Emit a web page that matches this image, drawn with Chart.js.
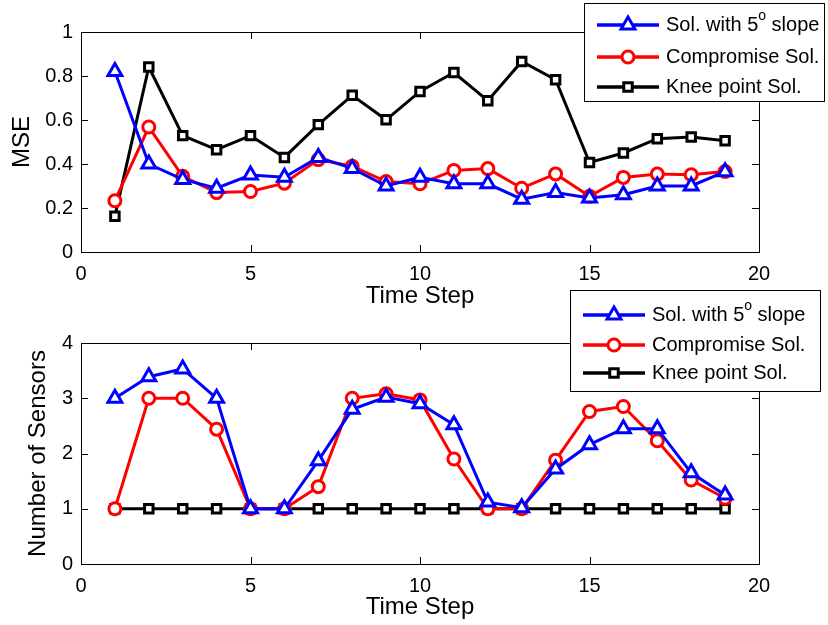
<!DOCTYPE html>
<html>
<head>
<meta charset="utf-8">
<script src="https://cdn.jsdelivr.net/npm/chart.js@4.4.0/dist/chart.umd.min.js"></script>
<style>
  html, body { margin: 0; padding: 0; background: #fff; }
  #wrap { position: relative; width: 828px; height: 625px; }
  #wrap canvas { position: absolute; left: 0; }
  #mseChart { top: 0; }
  #sensorChart { top: 280px; }
</style>
</head>
<body>
<div id="wrap">
  <canvas id="mseChart" width="828" height="312"></canvas>
  <canvas id="sensorChart" width="828" height="345"></canvas>
</div>
<script>
const timeSteps = [1, 2, 3, 4, 5, 6, 7, 8, 9, 10, 11, 12, 13, 14, 15, 16, 17, 18, 19];
const seriesLabels = ["Sol. with 5^o slope", "Compromise Sol.", "Knee point Sol."];

const mseSlope      = [0.82, 0.40, 0.33, 0.29, 0.35, 0.34, 0.43, 0.38, 0.30, 0.34, 0.31, 0.31, 0.24, 0.27, 0.245, 0.26, 0.30, 0.30, 0.365];
const mseCompromise = [0.233, 0.568, 0.344, 0.27, 0.275, 0.313, 0.42, 0.39, 0.32, 0.31, 0.371, 0.379, 0.29, 0.355, 0.253, 0.339, 0.354, 0.351, 0.366];
const mseKnee       = [0.162, 0.841, 0.529, 0.465, 0.529, 0.43, 0.579, 0.712, 0.601, 0.73, 0.816, 0.688, 0.866, 0.783, 0.407, 0.45, 0.515, 0.523, 0.506];

const sensorsSlope      = [3.0, 3.39, 3.53, 3.0, 1.0, 1.0, 1.87, 2.8, 3.02, 2.9, 2.52, 1.12, 1.02, 1.72, 2.16, 2.45, 2.45, 1.65, 1.25];
const sensorsCompromise = [1.0, 3.0, 3.0, 2.44, 1.0, 1.0, 1.4, 3.0, 3.08, 2.97, 1.9, 1.0, 1.0, 1.88, 2.76, 2.85, 2.23, 1.52, 1.19];
const sensorsKnee       = [1, 1, 1, 1, 1, 1, 1, 1, 1, 1, 1, 1, 1, 1, 1, 1, 1, 1, 1];

const mseTicks = { min: 0, max: 1, step: 0.2 };
const sensorTicks = { min: 0, max: 4, step: 1 };
const timeTicks = { min: 0, max: 20, step: 5 };

const FONT = '"Liberation Sans", Arial, Helvetica, sans-serif';
Chart.defaults.font.family = FONT;
Chart.defaults.color = "#000";

const seriesStyle = [
    { color: "#0000ff", pointStyle: "triangle", radius: 8 },
    { color: "#ff0000", pointStyle: "circle", radius: 6 },
    { color: "#000000", pointStyle: "rect", radius: 6 }
];

function makeDataset(i, values) {
    const s = seriesStyle[i];
    return {
        label: seriesLabels[i],
        data: timeSteps.map((t, k) => ({ x: t, y: values[k] })),
        borderColor: s.color,
        backgroundColor: s.color,
        borderWidth: 3,
        tension: 0,
        pointStyle: s.pointStyle,
        pointRadius: s.radius,
        pointBorderWidth: 3,
        pointBorderColor: s.color,
        pointBackgroundColor: "#fff"
    };
}

// plain number labels, MATLAB style ("1" not "1.0")
const plainTick = v => String(+Number(v).toFixed(2));

// box round the axes with inward ticks, like the original figure
const framePlugin = {
    id: "frame",
    beforeDatasetsDraw(chart) {
        const { ctx, chartArea: a, scales } = chart;
        ctx.save();
        ctx.strokeStyle = "#000";
        ctx.lineWidth = 1;
        ctx.strokeRect(a.left + 0.5, a.top + 0.5, a.right - a.left, a.bottom - a.top);
        const len = 7;
        ctx.beginPath();
        scales.x.ticks.forEach(t => {
            const x = Math.round(scales.x.getPixelForValue(t.value)) + 0.5;
            ctx.moveTo(x, a.bottom); ctx.lineTo(x, a.bottom - len);
            ctx.moveTo(x, a.top); ctx.lineTo(x, a.top + len);
        });
        scales.y.ticks.forEach(t => {
            const y = Math.round(scales.y.getPixelForValue(t.value)) + 0.5;
            ctx.moveTo(a.left, y); ctx.lineTo(a.left + len, y);
            ctx.moveTo(a.right, y); ctx.lineTo(a.right - len, y);
        });
        ctx.stroke();
        ctx.restore();
    }
};

function drawLabel(ctx, text, x, y, size) {
    const parts = text.split(/\^(\w)/);
    let cx = x;
    parts.forEach((p, i) => {
        const sup = i % 2 === 1;
        ctx.font = (sup ? Math.round(size * 0.7) : size) + "px " + FONT;
        ctx.fillText(p, cx, sup ? y - size * 0.45 : y);
        cx += ctx.measureText(p).width;
    });
}

const boxLegendPlugin = {
    id: "boxLegend",
    afterDraw(chart, args, opts) {
        const { ctx } = chart;
        ctx.save();
        ctx.fillStyle = "#fff";
        ctx.fillRect(opts.x, opts.y, opts.w, opts.h);
        ctx.strokeStyle = "#000";
        ctx.lineWidth = 1;
        ctx.strokeRect(opts.x + 0.5, opts.y + 0.5, opts.w, opts.h);
        chart.data.datasets.forEach((ds, i) => {
            const y = opts.y + opts.rows[i];
            const x0 = opts.x + opts.lineFrom, x1 = opts.x + opts.lineTo;
            ctx.strokeStyle = ds.borderColor;
            ctx.lineWidth = 3.5;
            ctx.beginPath();
            ctx.moveTo(x0, y); ctx.lineTo(x1, y);
            ctx.stroke();
            ctx.fillStyle = "#fff";
            ctx.lineWidth = ds.pointBorderWidth;
            Chart.helpers.drawPoint(ctx, { pointStyle: ds.pointStyle, radius: ds.pointRadius, borderWidth: ds.pointBorderWidth, rotation: 0 }, (x0 + x1) / 2, y);
            ctx.fillStyle = "#000";
            ctx.textBaseline = "middle";
            ctx.textAlign = "left";
            drawLabel(ctx, ds.label, opts.x + opts.textAt, y, 20);
        });
        ctx.restore();
    }
};

function makeChart(id, datasets, yTicks, yTitle, cfg) {
    return new Chart(document.getElementById(id), {
        type: "line",
        data: { datasets },
        plugins: [framePlugin, boxLegendPlugin],
        options: {
            responsive: false,
            animation: false,
            events: [],
            layout: { padding: { top: cfg.top, right: 69, left: 0, bottom: 0 } },
            plugins: {
                legend: { display: false },
                tooltip: { enabled: false },
                boxLegend: cfg.legend
            },
            scales: {
                x: {
                    type: "linear",
                    min: timeTicks.min, max: timeTicks.max,
                    ticks: { stepSize: timeTicks.step, padding: 10, maxRotation: 0, font: { size: 20 }, color: "#000", callback: plainTick },
                    grid: { display: false, drawTicks: false },
                    border: { display: false },
                    title: { display: true, text: "Time Step", font: { size: 24 }, color: "#000", padding: { top: 0, bottom: cfg.xTitlePad } },
                    afterFit: s => { s.height = cfg.xHeight; }
                },
                y: {
                    min: yTicks.min, max: yTicks.max,
                    ticks: { stepSize: yTicks.step, padding: 8, font: { size: 20 }, color: "#000", callback: plainTick },
                    grid: { display: false, drawTicks: false },
                    border: { display: false },
                    title: { display: true, text: yTitle, font: { size: 24 }, color: "#000", padding: { top: cfg.yTitlePad, bottom: 0 } },
                    afterFit: s => { s.width = 81; }
                }
            }
        }
    });
}

makeChart("mseChart",
    [makeDataset(0, mseSlope), makeDataset(1, mseCompromise), makeDataset(2, mseKnee)],
    mseTicks, "MSE",
    { top: 32, xHeight: 60, xTitlePad: 1, yTitlePad: 8,
      legend: { x: 584, y: 3, w: 240, h: 98, rows: [22, 54, 84], lineFrom: 13, lineTo: 75, textAt: 82 } });

makeChart("sensorChart",
    [makeDataset(0, sensorsSlope), makeDataset(1, sensorsCompromise), makeDataset(2, sensorsKnee)],
    sensorTicks, "Number of Sensors",
    { top: 63, xHeight: 61, xTitlePad: 3, yTitlePad: 24,
      legend: { x: 570, y: 10, w: 250, h: 101, rows: [25, 55, 83], lineFrom: 13, lineTo: 75, textAt: 82 } });
</script>
</body>
</html>
